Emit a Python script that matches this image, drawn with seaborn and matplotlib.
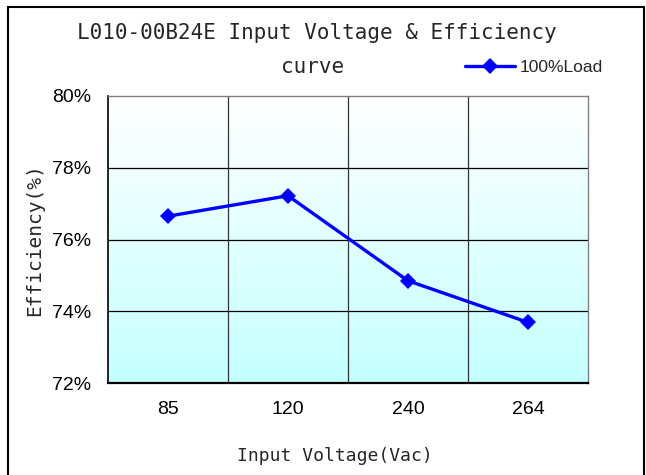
import matplotlib
matplotlib.use("Agg")
import matplotlib.pyplot as plt
from matplotlib.colors import LinearSegmentedColormap
from matplotlib.patches import Rectangle
from matplotlib.ticker import FixedLocator
import numpy as np
import pandas as pd
import seaborn as sns

# data
voltages = ["85", "120", "240", "264"]
efficiency = [76.65, 77.22, 74.85, 73.69]
series_name = "100%Load"
y_ticks = [72, 74, 76, 78, 80]

title_line1 = "L010-00B24E Input Voltage & Efficiency"
title_line2 = "curve"
x_label = "Input Voltage(Vac)"
y_label = "Efficiency(%)"

NARROW = ["Liberation Sans Narrow", "Liberation Sans", "DejaVu Sans"]
MONO = ["DejaVu Sans Mono"]

sns.set_style("white")
plt.rcParams["font.family"] = NARROW

W, H = 646, 475
fig = plt.figure(figsize=(W / 100, H / 100), dpi=100)
fig.patch.set_facecolor("white")

# plot area in pixels: left 108, right 588, top 96, bottom 383
ax = fig.add_axes([108 / W, 1 - 383 / H, 480 / W, 287 / H])

# white to light cyan gradient behind the data
grad_cmap = LinearSegmentedColormap.from_list("bg", ["#c4ffff", "#ffffff"])
grad = np.linspace(0, 1, 256).reshape(-1, 1)
ax.imshow(grad, cmap=grad_cmap, aspect="auto", origin="lower",
          extent=[0, 1, 0, 1], transform=ax.transAxes, zorder=0)

df = pd.DataFrame({"voltage": voltages, "eff": efficiency})
sns.lineplot(data=df, x="voltage", y="eff", ax=ax, color="#0000ff",
             linewidth=2.4, marker="D", markersize=8.5, markeredgewidth=0,
             label=series_name, zorder=5, sort=False)

ax.set_xlim(-0.5, len(voltages) - 0.5)
ax.set_ylim(y_ticks[0], y_ticks[-1])
ax.set_yticks(y_ticks)
ax.set_yticklabels([f"{t}%" for t in y_ticks])
ax.set_xticks(range(len(voltages)))
ax.set_xticklabels(voltages)
ax.xaxis.set_minor_locator(FixedLocator([i + 0.5 for i in range(len(voltages) - 1)]))

ax.grid(False)
for t in y_ticks[1:-1]:
    ax.axhline(t, color="black", linewidth=0.9, zorder=2)
for b in range(len(voltages) - 1):
    ax.axvline(b + 0.5, color="#333333", linewidth=0.9, zorder=2)

ax.tick_params(axis="both", which="both", length=0, labelsize=14, colors="black")
ax.tick_params(axis="x", pad=13)
ax.tick_params(axis="y", pad=12)
ax.set_xlabel("")
ax.set_ylabel("")

for side in ["left", "bottom"]:
    ax.spines[side].set_color("black")
ax.spines["left"].set_linewidth(1.2)
ax.spines["bottom"].set_linewidth(1.6)
for side in ["top", "right"]:
    ax.spines[side].set_color("#808080")
    ax.spines[side].set_linewidth(1.0)

leg = ax.legend(loc="center left", bbox_to_anchor=(465 / W, 1 - 67 / H),
                bbox_transform=fig.transFigure, frameon=False, borderpad=0,
                borderaxespad=0, handlelength=2.9, handletextpad=0.25,
                prop={"family": NARROW, "size": 12.5})

fig.text(317 / W, 1 - 33 / H, title_line1, ha="center", va="center",
         family=MONO, fontsize=15)
fig.text(313 / W, 1 - 67 / H, title_line2, ha="center", va="center",
         family=MONO, fontsize=15)
fig.text(335 / W, 1 - 456 / H, x_label, ha="center", va="center",
         family=MONO, fontsize=13)
fig.text(35 / W, 1 - 240 / H, y_label, ha="center", va="center",
         rotation=90, family=MONO, fontsize=14)

# outer frame round the chart
fig.patches.append(Rectangle((8 / W, -0.05), 636 / W, 1.05 - 7 / H,
                             transform=fig.transFigure, fill=False,
                             edgecolor="black", linewidth=1.5))

fig.savefig("out.png", dpi=100)
